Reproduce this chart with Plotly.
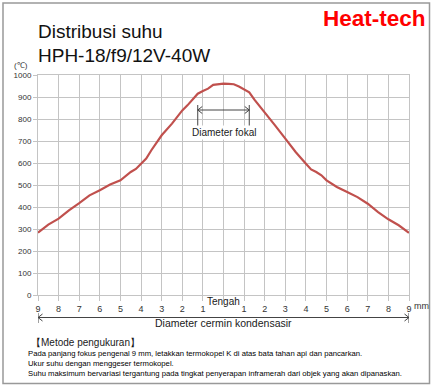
import plotly.graph_objects as go

# ---- data ----
positions_mm = [-9, -8.5, -8, -7.5, -7, -6.5, -6, -5.5, -5, -4.75, -4.5, -4.25, -4, -3.75, -3.5,
                -3.25, -3, -2.5, -2, -1.75, -1.5, -1.25, -1, -0.75, -0.5, -0.25, 0, 0.25, 0.5,
                0.75, 1, 1.25, 1.5, 2, 2.5, 3, 3.5, 4, 4.25, 4.5, 4.75, 5, 5.5, 6, 6.5, 7, 7.5,
                8, 8.5, 9]
temperature_c = [283, 320, 347, 385, 418, 453, 476, 502, 521, 542, 559, 573, 597, 620, 658,
                 694, 726, 779, 839, 862, 888, 915, 927, 938, 955, 958, 961, 960, 958,
                 948, 933, 921, 888, 832, 771, 711, 650, 597, 571, 559, 544, 521, 491, 468, 445,
                 415, 377, 344, 317, 283]
x_tickvals = list(range(-9, 10))
x_ticktext = ["9", "8", "7", "6", "5", "4", "3", "2", "1", "", "1", "2", "3", "4", "5", "6", "7", "8", "9"]
y_tickvals = list(range(0, 1001, 100))
title_lines = ["Distribusi suhu", "HPH-18/f9/12V-40W"]
notes = ["Pada panjang fokus pengenal 9 mm, letakkan termokopel K di atas bata tahan api dan pancarkan.",
         "Ukur suhu dengan menggeser termokopel.",
         "Suhu maksimum bervariasi tergantung pada tingkat penyerapan inframerah dari objek yang akan dipanaskan."]

W, H = 433, 388
L, R, T, B = 38, 24, 75, 93
PW, PH = W - L - R, H - T - B

def px(x):
    return (x - L) / PW

def py(y):
    return (H - B - y) / PH

GRID = "#c4c4c4"
TXT = "#1a1a1a"

fig = go.Figure()
fig.add_trace(go.Scatter(x=positions_mm, y=temperature_c, mode="lines",
                         line=dict(color="#c0504d", width=2.2), hoverinfo="skip"))

fig.update_layout(
    width=W, height=H, margin=dict(l=L, r=R, t=T, b=B),
    paper_bgcolor="white", plot_bgcolor="white", showlegend=False,
    font=dict(family="Liberation Sans, Arial, sans-serif", color=TXT),
    xaxis=dict(range=[-9, 9], tickvals=x_tickvals, ticktext=x_ticktext,
               showgrid=True, gridcolor=GRID, gridwidth=1, zeroline=False,
               showline=True, linecolor=GRID, ticks="outside", ticklen=5, tickcolor=GRID,
               tickfont=dict(size=9, color="#333333"), mirror=True),
    yaxis=dict(range=[0, 1000], tickvals=y_tickvals,
               showgrid=True, gridcolor=GRID, gridwidth=1, zeroline=False,
               showline=True, linecolor=GRID, ticks="outside", ticklen=4, tickcolor=GRID,
               tickfont=dict(size=8, color="#333333"), mirror=True),
)

ann = []
ann.append(dict(text=title_lines[0], x=px(36), y=py(32), xanchor="left", yanchor="middle",
                font=dict(size=19, color="#111111")))
ann.append(dict(text=title_lines[1], x=px(36), y=py(55), xanchor="left", yanchor="middle",
                font=dict(size=19, color="#111111")))
ann.append(dict(text="<b>Heat-tech</b>", x=px(374), y=py(18), xanchor="center", yanchor="middle",
                font=dict(size=22.5, color="#ff0000")))
ann.append(dict(text="(℃)", x=px(21), y=py(66), xanchor="center", yanchor="middle",
                font=dict(size=8, color="#333333")))
ann.append(dict(text="Tengah", x=0, y=py(301), xref="x", xanchor="center", yanchor="middle",
                font=dict(size=10, color=TXT)))
ann.append(dict(text="mm", x=px(412), y=py(306), xanchor="left", yanchor="middle",
                font=dict(size=9, color="#333333")))
ann.append(dict(text="Diameter cermin kondensasir", x=0, y=py(323), xref="x", xanchor="center",
                yanchor="middle", font=dict(size=10.5, color=TXT)))
ann.append(dict(text="Diameter fokal", x=0, y=py(132.5), xref="x", xanchor="center",
                yanchor="middle", font=dict(size=10, color=TXT), bgcolor="white"))
ann.append(dict(text="【Metode pengukuran】", x=px(29), y=py(342), xanchor="left", yanchor="middle",
                font=dict(size=10, color=TXT)))
for i, line in enumerate(notes):
    ann.append(dict(text=line, x=px(26), y=py(353 + 10.2 * i), xanchor="left", yanchor="middle",
                    font=dict(size=7.7, color="#000000")))
for a in ann:
    a.setdefault("xref", "paper")
    a.setdefault("yref", "paper")
    a["showarrow"] = False
fig.update_layout(annotations=ann)

ARROW = "#444444"
shapes = []
# frame around whole chart
shapes.append(dict(type="rect", xref="paper", yref="paper", x0=px(3), x1=px(429.5), y0=py(383.5), y1=py(3),
                   line=dict(color="#999999", width=1.5)))
# focal diameter bracket
fx0, fx1 = -1.25, 1.25
for xv in (fx0, fx1):
    shapes.append(dict(type="line", xref="x", yref="paper", x0=xv, x1=xv, y0=py(105), y1=py(127),
                       line=dict(color=ARROW, width=1)))
shapes.append(dict(type="line", xref="x", yref="paper", x0=fx0, x1=fx1, y0=py(110), y1=py(110),
                   line=dict(color=ARROW, width=1)))
# condenser diameter bracket
for xv in (-9, 9):
    shapes.append(dict(type="line", xref="x", yref="paper", x0=xv, x1=xv, y0=py(313), y1=py(323),
                       line=dict(color=ARROW, width=1)))
shapes.append(dict(type="line", xref="x", yref="paper", x0=-9, x1=9, y0=py(317.5), y1=py(317.5),
                   line=dict(color=ARROW, width=1)))
# open arrow heads
for xd, ypix, d in [(fx0, 110, 1), (fx1, 110, -1), (-9, 317.5, 1), (9, 317.5, -1)]:
    xp = L + (xd + 9) / 18 * PW
    for dy in (-3.5, 3.5):
        shapes.append(dict(type="line", xref="paper", yref="paper",
                           x0=px(xp), y0=py(ypix), x1=px(xp + d * 4.5), y1=py(ypix + dy),
                           line=dict(color=ARROW, width=1)))
fig.update_layout(shapes=shapes)

fig.write_html("out.html", config={"displayModeBar": False},
               post_script="document.body.style.margin='0';document.body.style.padding='0';")
